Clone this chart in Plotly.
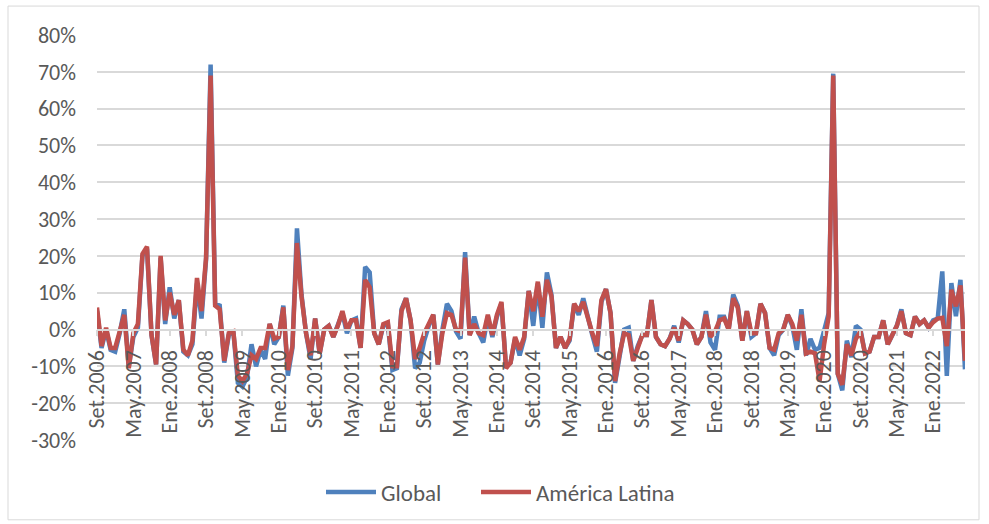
import plotly.graph_objects as go

# Monthly variation (%), Sep 2006 - Aug 2022
meses_abrev = ["Ene", "Feb", "Mar", "Abr", "May", "Jun",
               "Jul", "Ago", "Set", "Oct", "Nov", "Dic"]
inicio_anio, inicio_mes, n_meses = 2006, 9, 192

global_pct = [
    5, -5, 0, -5.5, -6, -1, 5.5, -10, -2, 0.5,
    20, 22, -1.5, -9.5, 19.5, 1.5, 11.5, 3, 8, -6,
    -7, -4, 12.5, 3, 19, 72, 7, 6.5, -9, -1.5,
    -0.5, -14.5, -15.5, -13, -4, -10, -5.5, -8, 1.5, -4,
    -2, 6.5, -12.5, -5, 27.5, 9.5, -1, -8, 3, -6.5,
    0, 1, -2, 1, 4.5, -1, 2.5, 3, -5, 17,
    15.5, -1, -4, 1, 1.5, -11, -10.5, 5.5, 8.5, 2.5,
    -10.5, -9, -3, 1, 4, -9.5, 0, 7, 5, -0.5,
    -2.5, 21, -1.5, 3.5, -1, -3.5, 3.5, -2, 3.5, 7,
    -10, -9, -2.5, -7, -2.5, 10.5, 1, 12.5, 0.5, 15.5,
    9.5, -5, -2, -5, -3, 7, 4, 8.5, 3, -1.5,
    -6, 7.5, 11, 4.5, -14.5, -6.5, 0, 0.5, -8.5, -4.5,
    -1.5, -1.5, 8, -2, -4, -4.5, -2.5, 1, -3.5, 2.5,
    1.5, 0, -4, -2, 5, -3.5, -5.5, 3.5, 3.5, 0,
    9.5, 6.5, -3, 5, -2, -1, 7, 4.5, -5, -7,
    -1.5, 0, 4, 1, -5.5, 5.5, -7, -2.5, -5.5, -5,
    0, 4.5, 69.5, -12, -16.5, -3, -7.5, 1, 0, -6.5,
    -6, -2, -2, 2.5, -4, -1.5, 1, 5.5, -1, -1.5,
    3.5, 1.5, 2.5, 0.5, 2.5, 3, 15.8, -12.6, 12.6, 3.6,
    13.5, -10.8,
]

america_latina_pct = [
    6, -4.5, 0.5, -5, -5, -1, 4, -10.5, -1, 1.5,
    20.5, 22.5, -1.5, -9.5, 20, 2.5, 10, 4, 8, -5.5,
    -7, -3, 14, 5, 19.5, 69, 6.5, 5.5, -8.5, -1,
    -0.5, -12.5, -14, -12, -7, -8, -5, -5, 1.5, -2.5,
    -2, 6, -11, -4.5, 23.5, 9, -1, -7, 3, -6.5,
    0, 1, -2, 1, 5, 0, 2.5, 2.5, -5, 13.5,
    11.5, -1, -4, 1.5, 2, -10, -10, 5, 8.5, 2.5,
    -8, -5, -1, 1.5, 4, -9.5, -1, 4.5, 4, 0,
    -0.5, 19.5, -1.5, 1.5, -1, -1.5, 4, -1.5, 4, 7.5,
    -10.5, -9, -2, -5.5, -2, 10.5, 5, 13, 3.5, 13.5,
    9, -5, -2, -5, -2.5, 7, 5, 7.5, 3, -1,
    -4.5, 8, 11, 4.5, -14, -6.5, -1, -1.5, -8.5, -4.5,
    -1.5, -1.5, 8, -2, -4, -4.5, -2.5, 0.5, -3, 2.5,
    1.5, 0, -4, -2, 4, -2, -0.5, 2.5, 3, 0,
    8.5, 6, -3, 5, -1, -1, 7, 4.5, -5, -5.5,
    -1, 0, 4, 1.5, -3, 4, -6.5, -6, -6.5, -14,
    -4, 3.5, 69, -12, -15, -4, -7, -2.5, -0.5, -6.5,
    -6, -2, -2, 2.5, -4, -1.5, 1, 5, -1, -1.5,
    3.5, 1.5, 2.5, 0.5, 2, 3, 3.2, -4.5, 10.8, 6.3,
    12, -8.5,
]

y_ticks = [-30, -20, -10, 0, 10, 20, 30, 40, 50, 60, 70, 80]
y_tick_text = ["-30%", "-20%", "-10%", "0%", "10%", "20%",
               "30%", "40%", "50%", "60%", "70%", "80%"]

# Category labels such as "Set.2006", "Oct.2006", ...
meses = []
for k in range(n_meses):
    m = inicio_mes - 1 + k
    meses.append(f"{meses_abrev[m % 12]}.{inicio_anio + m // 12}")
x_ticks = meses[::8]

FONT = "Calibri, Carlito, Lato, sans-serif"
GRIS_TEXTO = "#595959"
GRIS_LINEA = "#d9d9d9"

fig = go.Figure()
fig.add_trace(go.Scatter(
    x=meses, y=global_pct, name="Global", mode="lines",
    line=dict(color="#4F81BD", width=4.5), legend="legend",
))
fig.add_trace(go.Scatter(
    x=meses, y=america_latina_pct, name="América Latina", mode="lines",
    line=dict(color="#C0504D", width=4.5), legend="legend2",
))

W, H = 989, 524
L, R, T, B = 97, 24, 35, 83
plot_w, plot_h = W - L - R, H - T - B


def px_x(px):
    return (px - L) / plot_w


def px_y(py):
    return (H - B - py) / plot_h


def leyenda(x_px):
    return dict(
        orientation="h", x=px_x(x_px), xanchor="left",
        y=px_y(492), yanchor="middle",
        font=dict(size=23, color=GRIS_TEXTO),
        itemwidth=50,
        bgcolor="rgba(0,0,0,0)",
    )


fig.update_layout(
    width=W, height=H,
    margin=dict(l=L, r=R, t=T, b=B),
    paper_bgcolor="white", plot_bgcolor="white",
    font=dict(family=FONT, size=22, color=GRIS_TEXTO),
    showlegend=True,
    legend=leyenda(321),
    legend2=leyenda(476),
    xaxis=dict(
        type="category",
        range=[0, n_meses - 1],
        anchor="free",
        position=30 / 110,
        tickmode="array", tickvals=x_ticks, ticktext=x_ticks,
        tickangle=-90,
        ticks="outside", ticklen=6, tickwidth=1.5, tickcolor=GRIS_LINEA,
        showline=True, linecolor=GRIS_LINEA, linewidth=1.5,
        showgrid=False, zeroline=False,
        ticklabelstandoff=5,
        tickfont=dict(size=22, color=GRIS_TEXTO),
    ),
    yaxis=dict(
        range=[-30, 80],
        tickmode="array", tickvals=y_ticks, ticktext=y_tick_text,
        showgrid=True, gridcolor=GRIS_LINEA, gridwidth=1.5,
        zeroline=False, showline=False, ticks="",
        ticklabelstandoff=20,
        tickfont=dict(size=22, color=GRIS_TEXTO),
    ),
    shapes=[dict(
        type="rect", xref="paper", yref="paper",
        x0=px_x(8), x1=px_x(979), y0=px_y(521), y1=px_y(6),
        line=dict(color=GRIS_LINEA, width=1), layer="below",
    )],
)

fig.write_html("out.html")
